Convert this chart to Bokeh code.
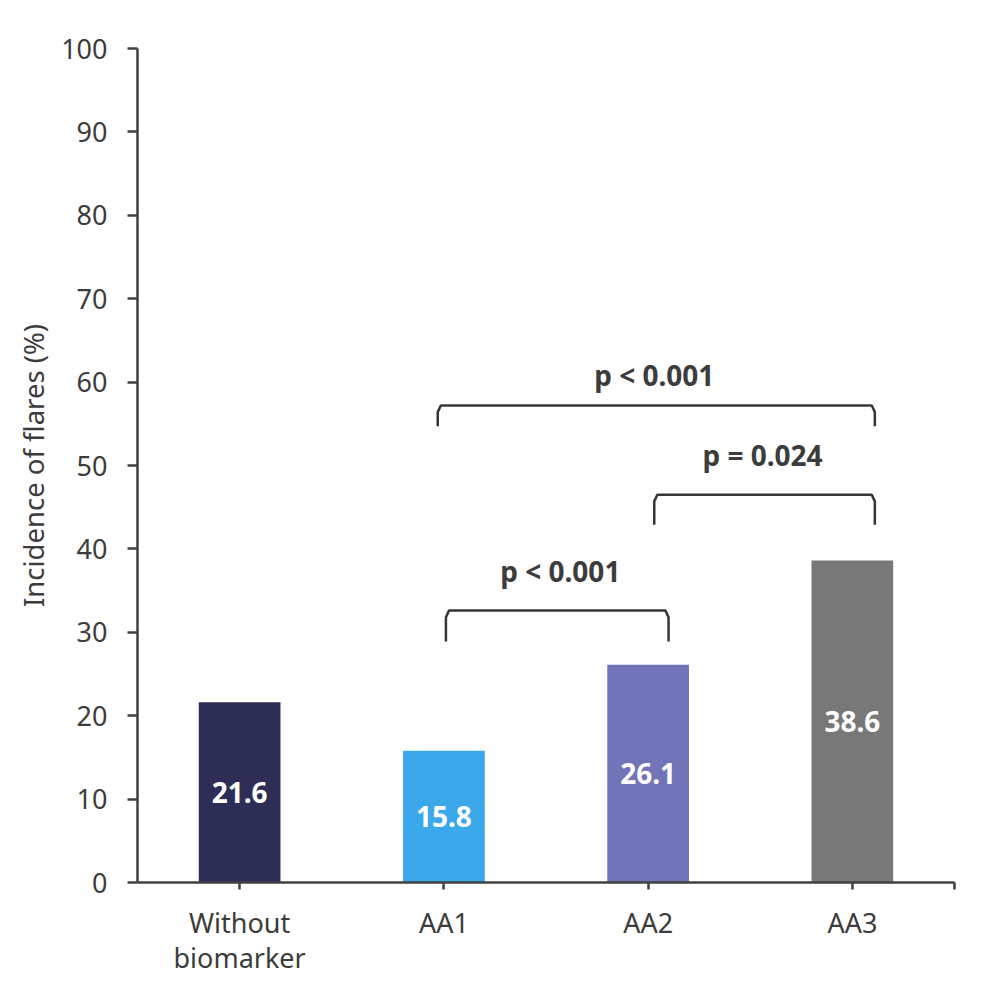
from bokeh.plotting import figure
from bokeh.models import ColumnDataSource, Range1d, FixedTicker, LinearAxis
from bokeh.embed import file_html
from bokeh.resources import INLINE
from bokeh.core.properties import value

categories = ["Without\nbiomarker", "AA1", "AA2", "AA3"]
incidence = [21.6, 15.8, 26.1, 38.6]
bar_colors = ["#2E2D55", "#3BA8EC", "#7274B9", "#787878"]
y_ticks = [0, 10, 20, 30, 40, 50, 60, 70, 80, 90, 100]

# significance brackets
br_left = [1.51, 2.53, 1.47]
br_right = [2.6, 3.61, 3.61]
br_bottom = [28.9, 42.9, 54.7]
br_top = [32.6, 46.5, 57.2]
p_labels = ["p < 0.001", "p = 0.024", "p < 0.001"]
p_x = [2.07, 3.06, 2.53]
p_y = [37.4, 51.2, 60.8]

FONT = "Noto Sans"
TXT = "#3C3C3C"

x = [i + 0.5 for i in range(len(categories))]
src = ColumnDataSource(dict(x=x, top=incidence, color=bar_colors,
                            mid=[v / 2 for v in incidence],
                            lab=[f"{v:.1f}" for v in incidence]))

p = figure(width=992, height=985, output_backend="svg", toolbar_location=None,
           x_range=Range1d(0, 4), y_range=Range1d(0, 100),
           min_border_left=137, min_border_right=38, min_border_top=48, min_border_bottom=103,
           x_axis_type=None, y_axis_type=None)
p.outline_line_color = None
p.xgrid.visible = False
p.ygrid.visible = False
p.background_fill_color = "white"
p.border_fill_color = "white"

p.vbar(x="x", top="top", width=0.4, bottom=0, color="color", line_color=None, source=src)
p.text(x="x", y="mid", text="lab", source=src, text_color="white",
       text_font=value(FONT), text_font_style="bold", text_font_size="28px",
       text_align="center", text_baseline="middle")

for xl, xr, yb, yt in zip(br_left, br_right, br_bottom, br_top):
    dx = 0.015
    dy = 0.8
    p.line([xl, xl, xl + dx, xr - dx, xr, xr], [yb, yt - dy, yt, yt, yt - dy, yb],
           line_color="#363636", line_width=2.5)

p.text(x=p_x, y=p_y, text=p_labels, text_color=TXT, text_font=value(FONT),
       text_font_style="bold", text_font_size="28px", text_align="center",
       text_baseline="middle")

xaxis = LinearAxis(ticker=FixedTicker(ticks=x + [4.0]))
xaxis.major_label_overrides = {xi: c for xi, c in zip(x, categories)}
xaxis.major_label_overrides[4.0] = ""
xaxis.minor_tick_line_color = None
xaxis.major_tick_in = 0
xaxis.major_tick_out = 7
xaxis.axis_line_color = "#404040"
xaxis.axis_line_width = 2.5
xaxis.major_tick_line_color = "#404040"
xaxis.major_tick_line_width = 2.5
xaxis.major_label_text_font = FONT
xaxis.major_label_text_font_size = "27px"
xaxis.major_label_text_color = TXT
xaxis.major_label_text_line_height = 0.95
xaxis.major_label_standoff = 14
p.add_layout(xaxis, "below")

yaxis = LinearAxis(ticker=FixedTicker(ticks=y_ticks))
yaxis.minor_tick_line_color = None
yaxis.major_tick_in = 0
yaxis.major_tick_out = 10
yaxis.axis_line_color = "#404040"
yaxis.axis_line_width = 2.5
yaxis.major_tick_line_color = "#404040"
yaxis.major_tick_line_width = 2.5
yaxis.major_label_text_font = FONT
yaxis.major_label_text_font_size = "27px"
yaxis.major_label_text_color = TXT
yaxis.major_label_standoff = 20
yaxis.axis_label = "Incidence of flares (%)"
yaxis.axis_label_text_font = FONT
yaxis.axis_label_text_font_size = "27.5px"
yaxis.axis_label_text_font_style = "normal"
yaxis.axis_label_text_color = TXT
yaxis.axis_label_standoff = 6
p.add_layout(yaxis, "left")

open("out.html", "w").write(file_html(p, INLINE))
